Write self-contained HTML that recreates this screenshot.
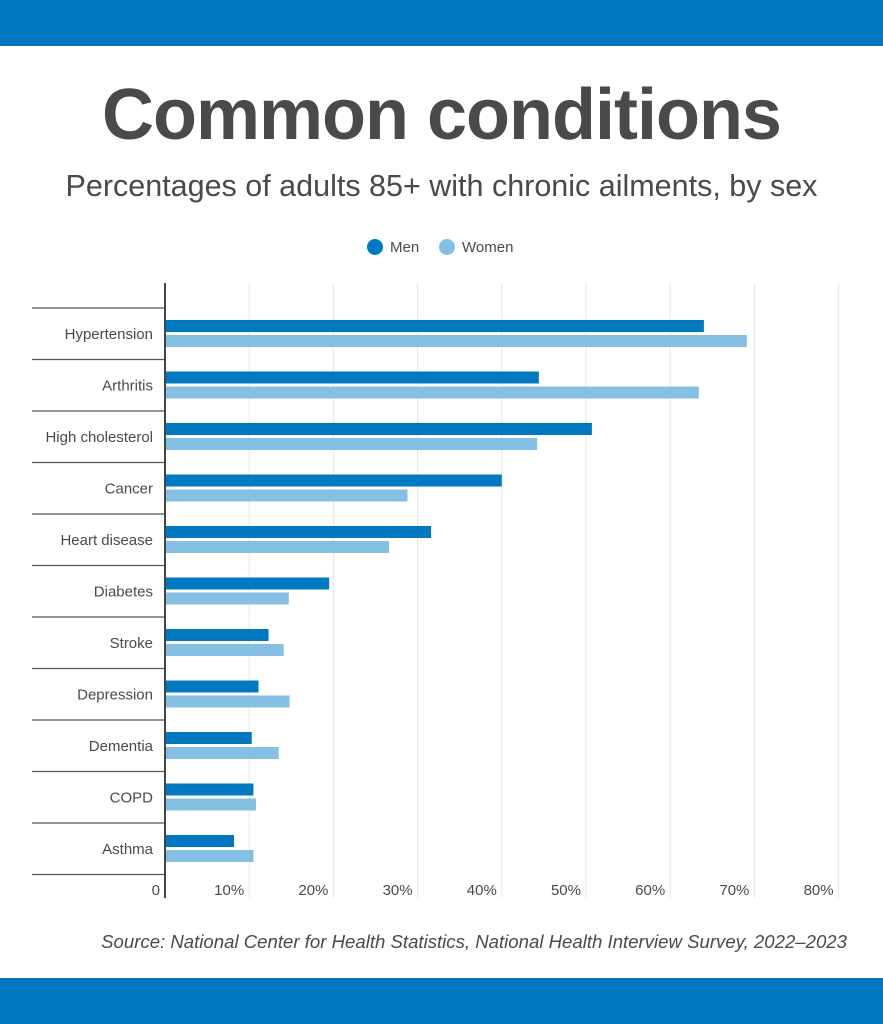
<!DOCTYPE html>
<html><head><meta charset="utf-8"><style>
body{margin:0;width:883px;height:1024px;background:#fff;overflow:hidden;font-family:"Liberation Sans",sans-serif;position:relative}
.band{position:absolute;left:0;width:883px;height:46px;background:#0079c1}
h1{position:absolute;top:74px;left:0;width:883px;text-align:center;margin:0;font-size:72px;font-weight:bold;color:#4a4a4a;letter-spacing:-1px}
h2{position:absolute;top:169px;left:0;width:883px;text-align:center;margin:0;font-size:30.5px;font-weight:normal;color:#4a4a4a}
.src{position:absolute;top:931px;right:36px;font-size:18.6px;font-style:italic;color:#4a4a4a;white-space:nowrap}
</style></head><body>
<div class="band" style="top:0"></div>
<h1>Common conditions</h1>
<h2>Percentages of adults 85+ with chronic ailments, by sex</h2>
<svg id="c" width="883" height="1024" style="position:absolute;left:0;top:0"></svg>
<div class="src">Source: National Center for Health Statistics, National Health Interview Survey, 2022–2023</div>
<div class="band" style="top:978px"></div>
<script>
const categories=["Hypertension","Arthritis","High cholesterol","Cancer","Heart disease","Diabetes","Stroke","Depression","Dementia","COPD","Asthma"];
const men=[64,44.4,50.7,40,31.6,19.5,12.3,11.1,10.3,10.5,8.2];
const women=[69.1,63.4,44.2,28.8,26.6,14.7,14.1,14.8,13.5,10.8,10.5];
const ticks=[0,10,20,30,40,50,60,70,80];
const tickLabels=["0","10%","20%","30%","40%","50%","60%","70%","80%"];
const NS="http://www.w3.org/2000/svg";
const svg=document.getElementById('c');
const x0=165,pxPer=8.42,top0=308,rowH=51.5;
const xs=v=>x0+v*pxPer;
function mk(t,a){const e=document.createElementNS(NS,t);for(const k in a)e.setAttribute(k,a[k]);svg.appendChild(e);return e;}
let g;
g=mk('circle',{cx:375,cy:247,r:8,fill:'#0079c1'});


g=mk('text',{x:390,y:252,'font-size':15,fill:'#4a4a4a'});g.textContent='Men';


g=mk('circle',{cx:447,cy:247,r:8,fill:'#85bfe2'});


g=mk('text',{x:462,y:252,'font-size':15,fill:'#4a4a4a'});g.textContent='Women';


ticks.forEach((t,i)=>{
 if(t>0){const l=mk('line',{x1:xs(t),x2:xs(t),y1:283,y2:898,stroke:'#e6e6e6','stroke-width':1});
 
 }
 const tx=mk('text',{x:xs(t)-5,y:895,'text-anchor':'end','font-size':15,fill:'#4a4a4a'});
 tx.textContent=tickLabels[i];
 
 
});
categories.forEach((c,i)=>{
 const y=top0+i*rowH;
 const s=mk('line',{x1:32,x2:x0,y1:y,y2:y,stroke:'#555','stroke-width':1.2});
 
 
 const lb=mk('text',{x:153,y:y+31,'text-anchor':'end','font-size':15,fill:'#4a4a4a'});
 lb.textContent=c;
 
 
 const bm=mk('rect',{x:x0,y:y+12,width:xs(men[i])-x0,height:12,fill:'#0079c1'});
 
 
 const bw=mk('rect',{x:x0,y:y+27,width:xs(women[i])-x0,height:12,fill:'#85bfe2'});
 
 
});
const last=mk('line',{x1:32,x2:x0,y1:top0+categories.length*rowH,y2:top0+categories.length*rowH,stroke:'#555','stroke-width':1.2});


const ax=mk('line',{x1:x0,x2:x0,y1:283,y2:898,stroke:'#444','stroke-width':2});


</script>
</body></html>
